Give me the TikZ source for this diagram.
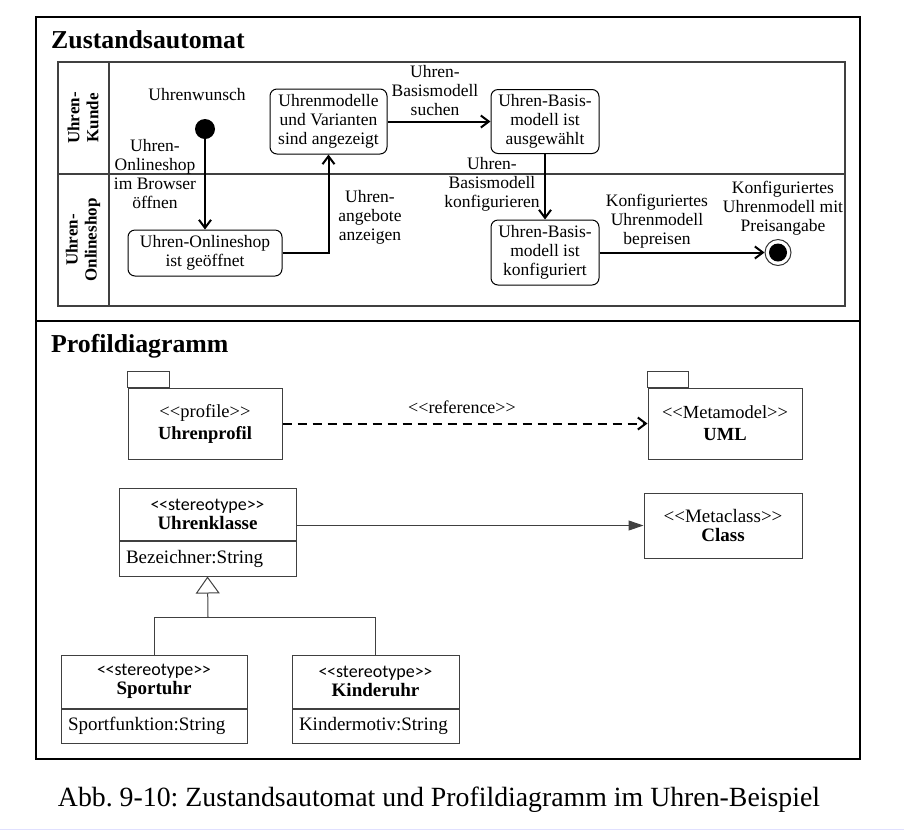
\documentclass[tikz,border=0pt]{standalone}
\usepackage{fontspec}
\setmainfont{Liberation Serif}
\newfontfamily\stfont{Carlito}
\usetikzlibrary{arrows.meta, positioning}
\frenchspacing

\newcommand{\stereo}[1]{<\kern0pt<#1>\kern0pt>}
\newcommand{\ststereo}[1]{{\stfont\fontsize{18}{19}\selectfont<\kern-0.5pt<#1>\kern-0.5pt>}}

\begin{document}
\begin{tikzpicture}[x=1pt, y=-1pt, >={Straight Barb[length=8pt,width=12pt]},
  lbl/.style={align=center, inner sep=0pt, font=\fontsize{17.5}{19}\selectfont},
  zust/.style={draw, rounded corners=7pt, line width=1pt, align=center, inner sep=0pt, font=\fontsize{17.5}{19}\selectfont},
  trans/.style={->, line width=2pt},
  lane/.style={draw=black!75, line width=1.2pt},
  pkg/.style={draw=black!75, line width=1pt, align=center, inner sep=0pt, font=\fontsize{18.5}{22}\selectfont},
  cls/.style={draw=black!75, line width=1pt, align=center, inner sep=0pt, font=\fontsize{19}{19}\selectfont},
  attr/.style={draw=black!75, line width=1pt, inner xsep=7pt, inner ysep=0pt, text width=#1, align=left, font=\fontsize{19}{19}\selectfont},
  cline/.style={draw=black!75, line width=1pt}]
  \useasboundingbox (0,0) rectangle (904,831);

  % Rahmen
  \draw[line width=2pt] (36,17) rectangle (860,759);
  \draw[line width=2pt] (36,321) -- (860,321);
  \draw[blue!12, line width=1pt] (0,829.5) -- (904,829.5);

  \node[anchor=west, inner sep=0pt, font=\fontsize{25.8}{28}\selectfont\bfseries] (titel1) at (51,40) {Zustandsautomat};
  \node[anchor=west, inner sep=0pt, font=\fontsize{25.8}{28}\selectfont\bfseries] (titel2) at (51,346) {Profildiagramm};

  % Zustandsautomat
  \draw[lane] (58,62) rectangle (845,306);
  \draw[lane] (109,62) -- (109,306);
  \draw[lane] (58,174) -- (845,174);
  \node[rotate=90, align=center, inner sep=0pt, font=\fontsize{17}{19}\selectfont\bfseries] (kunde) at (83,118) {Uhren-\\Kunde};
  \node[rotate=90, align=center, inner sep=0pt, font=\fontsize{17}{19}\selectfont\bfseries] (shop) at (83,240) {Uhren-\\Onlineshop};

  \node[circle, fill, inner sep=0pt, minimum size=20pt] (start) at (205,129) {};
  \node[zust, minimum width=154pt, minimum height=46pt] (offen) at (205,253) {Uhren-Onlineshop\\ist geöffnet};
  \node[zust, minimum width=117pt, minimum height=65pt] (angezeigt) at (328.5,121.5) {Uhrenmodelle\\und Varianten\\sind angezeigt};
  \node[zust, minimum width=108pt, minimum height=64pt] (gewaehlt) at (545,121.5) {Uhren-Basis-\\modell ist\\ausgewählt};
  \node[zust, minimum width=108pt, minimum height=65pt] (konfig) at (545,252.5) {Uhren-Basis-\\modell ist\\konfiguriert};
  \node[circle, draw=black!80, line width=1pt, inner sep=0pt, minimum size=26pt] (ende) at (778,252.5) {};
  \node[circle, fill, inner sep=0pt, minimum size=18pt] (endepunkt) at (ende) {};

  \draw[trans] (start) -- (offen);
  \draw[trans] (offen.east) -| (angezeigt.south);
  \draw[trans] (angezeigt) -- (gewaehlt);
  \draw[trans] (gewaehlt) -- (konfig);
  \draw[trans] (konfig) -- (ende);

  \node[lbl] (wunsch) at (197,95) {Uhrenwunsch};
  \node[lbl] (oeffnen) at (155,174) {Uhren-\\Onlineshop\\im Browser\\öffnen};
  \node[lbl] (anzeigen) at (370,217) {Uhren-\\angebote\\anzeigen};
  \node[lbl] (suchen) at (435,91) {Uhren-\\Basismodell\\suchen};
  \node[lbl] (konfigurieren) at (492,184) {Uhren-\\Basismodell\\konfigurieren};
  \node[lbl] (bepreisen) at (657,221) {Konfiguriertes\\Uhrenmodell\\bepreisen};
  \node[lbl] (preis) at (783,208) {Konfiguriertes\\Uhrenmodell mit\\Preisangabe};

  % Profildiagramm
  \node[pkg, minimum width=154pt, minimum height=71pt] (profil) at (205,423.5) {\stereo{profile}\\\textbf{Uhrenprofil}};
  \draw[cline] (profil.north west) rectangle ++(42,-16);
  \node[pkg, minimum width=154pt, minimum height=71pt] (uml) at (725,423.5) {\stereo{Metamodel}\\\textbf{UML}};
  \draw[cline] (uml.north west) rectangle ++(41,-16);
  \draw[->, line width=2pt, dash pattern=on 9pt off 6pt] (profil) -- (uml);
  \node[lbl, font=\fontsize{18}{19}\selectfont] (referenz) at (462,407) {\stereo{reference}};

  \node[cls, minimum width=177pt, minimum height=52pt] (uhrenklasse) at (207.5,514) {\ststereo{stereotype}\\\textbf{Uhrenklasse}};
  \node[attr=163pt, minimum height=35pt, below=0pt of uhrenklasse] (uhrenklasse-attr) {Bezeichner:String};
  \node[cls, minimum width=158pt, minimum height=65pt] (metaklasse) at (723,525.5) {\stereo{Metaclass}\\\textbf{Class}};
  \draw[cline, -{Triangle[length=15pt,width=10pt]}] (uhrenklasse.east|-metaklasse.west) -- (metaklasse.west);

  \node[cls, minimum width=186pt, minimum height=53pt] (sportuhr) at (154,681.5) {\ststereo{stereotype}\\\textbf{Sportuhr}};
  \node[attr=172pt, minimum height=34pt, below=0pt of sportuhr] (sportuhr-attr) {Sportfunktion:String};
  \node[cls, minimum width=167pt, minimum height=53pt] (kinderuhr) at (375.5,681.5) {\ststereo{stereotype}\\\textbf{Kinderuhr}};
  \node[attr=153pt, minimum height=34pt, below=0pt of kinderuhr] (kinderuhr-attr) {Kindermotiv:String};

  \coordinate (gabel) at (208,617);
  \draw[cline] (sportuhr.north) |- (gabel) -| (kinderuhr.north);
  \draw[cline, -{Triangle[open, length=17pt, width=24pt]}] (gabel) -- (uhrenklasse-attr.south);

  \node[font=\fontsize{27.8}{30}\selectfont, inner sep=0pt] (unterschrift) at (439,800) {Abb. 9-10: Zustandsautomat und Profildiagramm im Uhren-Beispiel};
\end{tikzpicture}
\end{document}
